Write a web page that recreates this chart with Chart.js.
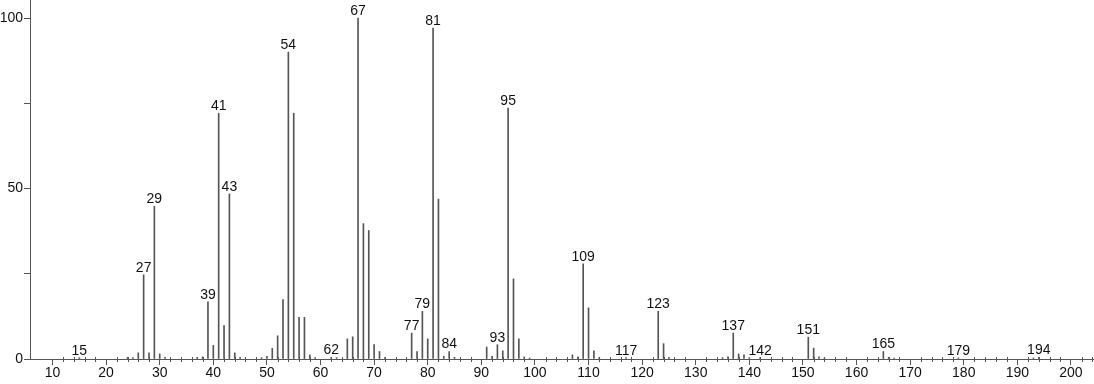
<!DOCTYPE html>
<html>
<head>
<meta charset="utf-8">
<style>
  html, body { margin: 0; padding: 0; background: #fff; }
  #wrap { width: 1094px; height: 384px; }
</style>
<script src="https://cdn.jsdelivr.net/npm/chart.js@4/dist/chart.umd.min.js"></script>
</head>
<body>
<div id="wrap"><canvas id="spectrumChart"></canvas></div>
<script>
// m/z values and relative intensities
const mz = [15, 24, 25, 26, 27, 28, 29, 30, 31, 37, 38, 39, 40, 41, 42, 43, 44, 45, 49, 50,
  51, 52, 53, 54, 55, 56, 57, 58, 59, 62, 63, 65, 66, 67, 68, 69, 70, 71, 72, 77,
  78, 79, 80, 81, 82, 83, 84, 85, 91, 92, 93, 94, 95, 96, 97, 98, 99, 107, 108, 109,
  110, 111, 112, 117, 123, 124, 125, 135, 136, 137, 138, 139, 140, 142, 151, 152, 153, 154, 165, 166,
  167, 179, 193, 194];
const intensity = [0.4, 0.5, 0.4, 1.8, 24.7, 1.8, 44.8, 1.5, 0.5, 0.5, 0.6, 16.8, 4.0, 72.1, 9.8, 48.4, 1.8, 0.5, 0.4, 0.8,
  3.1, 6.8, 17.4, 90.0, 72.1, 12.2, 12.2, 1.2, 0.4, 0.5, 0.4, 5.9, 6.5, 100, 39.7, 37.7, 4.2, 2.2, 0.4, 7.6,
  2.2, 14.0, 5.9, 97.1, 46.9, 0.8, 2.2, 0.5, 3.5, 0.8, 4.2, 2.4, 73.6, 23.5, 5.9, 0.6, 0.3, 1.2, 0.6, 27.9,
  15.0, 2.4, 0.5, 0.4, 14.0, 4.5, 0.5, 0.4, 0.6, 7.6, 1.5, 1.2, 0.4, 0.4, 6.4, 3.2, 0.6, 0.3, 2.2, 0.5,
  0.3, 0.3, 0.3, 0.5];
// peaks that carry an m/z label
const labelledPeaks = [15, 27, 29, 39, 41, 43, 54, 62, 67, 77, 79, 81, 84, 93, 95, 109, 117, 123, 137, 142, 151, 165, 179, 194];
const xMajorTicks = [10, 20, 30, 40, 50, 60, 70, 80, 90, 100, 110, 120, 130, 140, 150, 160, 170, 180, 190, 200];
const yLabelTicks = [0, 50, 100];

const FONT = '"Liberation Sans", Arial, sans-serif';
const AXIS = "#555";

// small ticks every 2 units along the m/z axis
const minorTicks = {
  id: "minorTicks",
  afterDraw(chart) {
    const { ctx, scales: { x, y } } = chart;
    const y0 = y.getPixelForValue(0);
    ctx.save();
    ctx.strokeStyle = AXIS;
    ctx.lineWidth = 1;
    ctx.beginPath();
    for (let v = 12; v <= 204; v += 2) {
      if (v % 10 === 0) continue;
      const px = Math.round(x.getPixelForValue(v)) + 0.5;
      ctx.moveTo(px, y0 - 2);
      ctx.lineTo(px, y0 + 3);
    }
    ctx.stroke();
    ctx.restore();
  },
};

// m/z numbers above the labelled peaks
const peakLabels = {
  id: "peakLabels",
  afterDatasetsDraw(chart) {
    const { ctx, scales: { x, y } } = chart;
    ctx.save();
    ctx.font = "14px " + FONT;
    ctx.fillStyle = "#111";
    ctx.textAlign = "center";
    ctx.textBaseline = "alphabetic";
    labelledPeaks.forEach((m) => {
      const i = mz.indexOf(m);
      const px = x.getPixelForValue(m);
      const py = y.getPixelForValue(intensity[i]);
      ctx.fillText(String(m), px, py - 3);
    });
    ctx.restore();
  },
};

new Chart(document.getElementById("spectrumChart"), {
  type: "bar",
  data: {
    datasets: [
      {
        data: mz.map((m, i) => ({ x: m, y: intensity[i] })),
        backgroundColor: "#555",
        borderWidth: 0,
        barThickness: 1,
        grouped: false,
      },
    ],
  },
  options: {
    responsive: true,
    maintainAspectRatio: false,
    animation: false,
    layout: { padding: 0 },
    plugins: { legend: { display: false }, tooltip: { enabled: false } },
    scales: {
      x: {
        type: "linear",
        offset: false,
        min: 5.8,
        max: 204.3,
        afterFit: (s) => { s.height = 25; s.paddingLeft = 0; s.paddingRight = 0; },
        border: { display: true, color: AXIS, width: 1 },
        grid: { offset: false, drawOnChartArea: false, drawTicks: true, tickLength: 6, tickColor: AXIS },
        ticks: {
          stepSize: 10,
          includeBounds: false,
          autoSkip: false,
          maxRotation: 0,
          padding: 0,
          color: "#111",
          font: { family: FONT, size: 14 },
          callback: (v) => (xMajorTicks.includes(v) ? String(v) : ""),
        },
      },
      y: {
        min: 0,
        max: 105.3,
        afterFit: (s) => { s.width = 30; s.paddingTop = 0; s.paddingBottom = 0; },
        border: { display: true, color: AXIS, width: 1 },
        grid: { drawOnChartArea: false, drawTicks: true, tickLength: 6, tickColor: AXIS },
        ticks: {
          stepSize: 25,
          includeBounds: false,
          padding: 1,
          color: "#111",
          font: { family: FONT, size: 14 },
          callback: (v) => (yLabelTicks.includes(v) ? String(v) : ""),
        },
      },
    },
  },
  plugins: [minorTicks, peakLabels],
});
</script>
</body>
</html>
